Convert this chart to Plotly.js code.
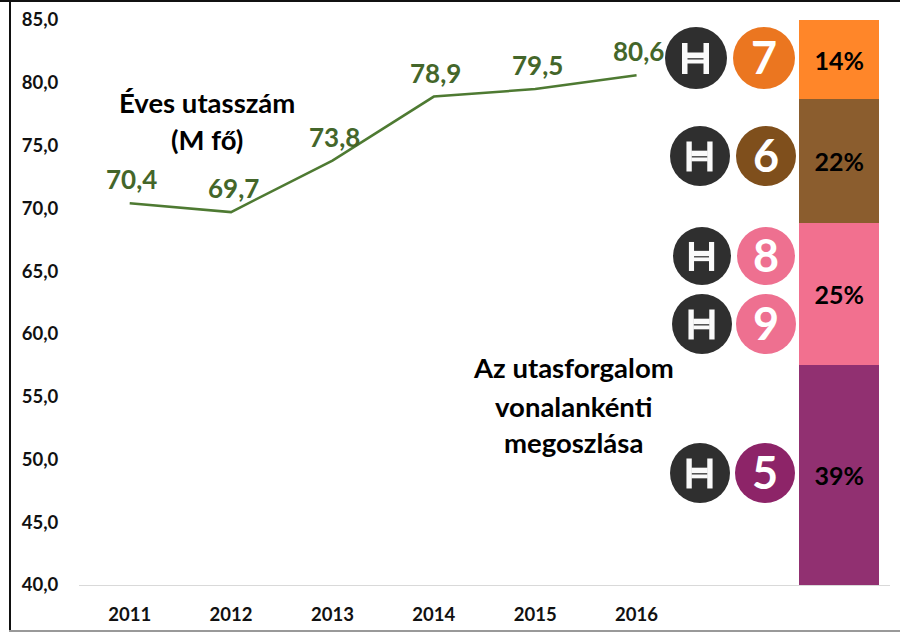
<!DOCTYPE html>
<html><head><meta charset="utf-8">
<script src="https://cdn.plot.ly/plotly-3.0.0.min.js"></script>
<style>html,body{margin:0;padding:0;background:#fff}#c{width:900px;height:632px}</style>
</head><body><div id="c"></div>
<script>
const years = [2011, 2012, 2013, 2014, 2015, 2016];
const passengers = [70.4, 69.7, 73.8, 78.9, 79.5, 80.6];
const yTicks = [40, 45, 50, 55, 60, 65, 70, 75, 80, 85];
const shareX = 2018;
const lineNames = ['5', '8 + 9', '6', '7'];
const shares = [39, 25, 22, 14];
const shareColors = ['#913071', '#F2708F', '#8B5D2E', '#FF8629'];
const iconDigits = ['7', '6', '8', '9', '5'];
const iconColors = ['#EB7620', '#7F4F1C', '#EE7090', '#EE7090', '#8D2468'];
const iconDarkX = [696, 700, 702, 702, 700];
const iconColorX = [764, 766, 766, 766, 765];
const iconY = [58, 156, 256, 324, 473];
const iconR = [31, 30, 29, 30, 30];
const notes = [
  {text: 'Éves utasszám', x: 207, y: 102}, {text: '(M fő)', x: 207, y: 139},
  {text: 'Az utasforgalom', x: 573, y: 368}, {text: 'vonalankénti', x: 573, y: 406}, {text: 'megoszlása', x: 573, y: 443}
];
const FONT = 'Lato, Carlito, "Open Sans", sans-serif';

const L = 79, T = 20, W = 811, H = 565;
const px = x => (x - L) / W, py = y => (T + H - y) / H;
const shapes = [], annotations = [];
const rect = (x0, y0, x1, y1, fill) => shapes.push({type: 'rect', xref: 'paper', yref: 'paper', layer: 'above',
  x0: px(x0), x1: px(x1), y0: py(y0), y1: py(y1), fillcolor: fill, line: {width: 0}});
const circle = (cx, cy, r, fill) => shapes.push({type: 'circle', xref: 'paper', yref: 'paper', layer: 'above',
  x0: px(cx - r), x1: px(cx + r), y0: py(cy - r), y1: py(cy + r), fillcolor: fill, line: {width: 0}});

// picture frame
rect(0, 0, 900, 2, '#111111');
rect(9, 0, 11, 632, '#111111');
rect(9, 630, 900, 632, '#999999');

iconDigits.forEach((d, i) => {
  const cx = iconDarkX[i], cy = iconY[i], r = iconR[i], s = r / 31;
  circle(cx, cy, r, '#2F2F2F');
  rect(cx - 14 * s, cy - 15 * s, cx - 8.5 * s, cy + 16 * s, '#FAFAFA');
  rect(cx + 7.5 * s, cy - 15 * s, cx + 13 * s, cy + 16 * s, '#FAFAFA');
  rect(cx - 9 * s, cy - 5.5 * s, cx + 8 * s, cy + 0.2 * s, '#FAFAFA');
  rect(cx - 9 * s, cy + 1.5 * s, cx + 8 * s, cy + 5.5 * s, '#FAFAFA');
  circle(iconColorX[i], cy, r, iconColors[i]);
  annotations.push({xref: 'paper', yref: 'paper', x: px(iconColorX[i]), y: py(cy - 1), text: d, showarrow: false,
    xanchor: 'center', yanchor: 'middle', font: {family: FONT, size: 45, weight: 700, color: '#FFFFFF'}});
});
notes.forEach(n => annotations.push({xref: 'paper', yref: 'paper', x: px(n.x), y: py(n.y), text: n.text, showarrow: false,
  xanchor: 'center', yanchor: 'middle', font: {family: FONT, size: 27.5, weight: 700, color: '#000000'}}));
years.forEach((yr, i) => annotations.push({xref: 'x', yref: 'y', x: yr, y: passengers[i], text: passengers[i].toFixed(1).replace('.', ','),
  showarrow: false, xanchor: 'center', yanchor: 'middle', xshift: 2, yshift: 24,
  font: {family: FONT, size: 26, weight: 700, color: '#44662A'}}));

const traces = shares.map((v, i) => ({
  type: 'bar', x: [shareX], y: [v], name: lineNames[i], yaxis: 'y2', width: 0.79,
  marker: {color: shareColors[i], line: {width: 0}},
  text: [v + '%'], textposition: 'inside', insidetextanchor: 'middle', textangle: 0,
  textfont: {family: FONT, size: 25, weight: 700, color: '#000000'}, hoverinfo: 'skip'
}));
traces.push({
  type: 'scatter', mode: 'lines', x: years, y: passengers,
  line: {color: '#4E7A32', width: 2.5, shape: 'linear'}
});

Plotly.newPlot('c', traces, {
  width: 900, height: 632, margin: {l: L, r: 900 - L - W, t: T, b: 632 - T - H, pad: 0},
  paper_bgcolor: '#fff', plot_bgcolor: '#fff', showlegend: false, separators: ', ', barmode: 'stack',
  xaxis: {range: [2010.5, 2018.5], tickvals: years, ticktext: years.map(String), showgrid: false, zeroline: false,
    showline: true, linecolor: '#D9D9D9', linewidth: 1, ticks: 'outside', ticklen: 13, tickcolor: 'rgba(0,0,0,0)',
    tickfont: {family: FONT, size: 18.5, weight: 700, color: '#111111'}},
  yaxis: {range: [40, 85], tickvals: yTicks, tickformat: '.1f', showgrid: false, zeroline: false, showline: false,
    ticks: 'outside', ticklen: 16, tickcolor: 'rgba(0,0,0,0)',
    tickfont: {family: FONT, size: 18.5, weight: 700, color: '#111111'}},
  yaxis2: {range: [0, 100], overlaying: 'y', visible: false},
  shapes, annotations
}, {displayModeBar: false, staticPlot: true});
</script></body></html>
